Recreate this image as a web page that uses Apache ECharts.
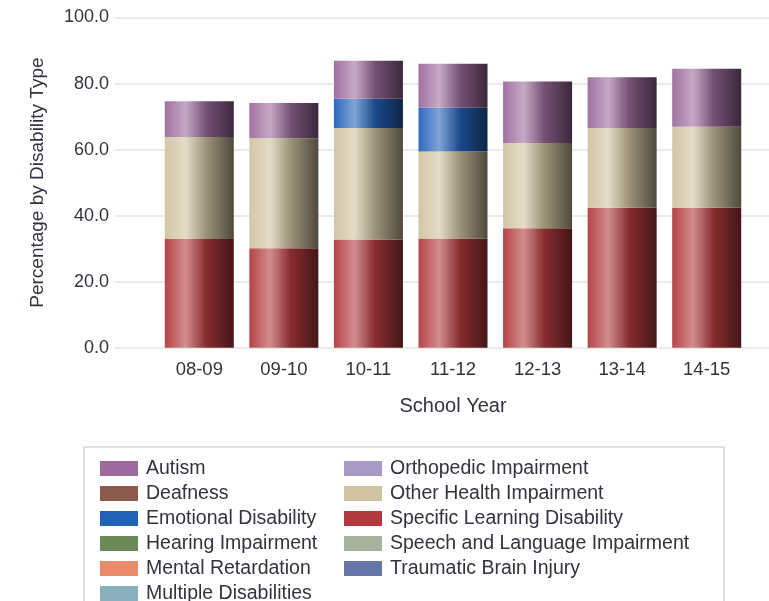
<!DOCTYPE html>
<html>
<head>
<meta charset="utf-8">
<script src="https://cdn.jsdelivr.net/npm/echarts@6/dist/echarts.min.js"></script>
<style>
html,body{margin:0;padding:0;background:#fff;}
#chart{width:769px;height:601px;}
</style>
</head>
<body>
<div id="chart"></div>
<script>
// ---- data ----
const schoolYears = ['08-09', '09-10', '10-11', '11-12', '12-13', '13-14', '14-15'];
const yTicks = [0, 20, 40, 60, 80, 100];

const autism = [10.8, 10.7, 11.5, 13.3, 18.6, 15.4, 17.6];
const deafness = [0, 0, 0, 0, 0, 0, 0];
const emotionalDisability = [0, 0, 8.9, 13.3, 0, 0, 0];
const hearingImpairment = [0, 0, 0, 0, 0, 0, 0];
const mentalRetardation = [0, 0, 0, 0, 0, 0, 0];
const multipleDisabilities = [0, 0, 0, 0, 0, 0, 0];
const orthopedicImpairment = [0, 0, 0, 0, 0, 0, 0];
const otherHealthImpairment = [30.9, 33.3, 33.7, 26.3, 25.8, 24.1, 24.5];
const specificLearningDisability = [32.9, 30.1, 32.8, 33.1, 36.2, 42.4, 42.4];
const speechLanguageImpairment = [0, 0, 0, 0, 0, 0, 0];
const traumaticBrainInjury = [0, 0, 0, 0, 0, 0, 0];

// ---- styling ----
const FONT = 'Liberation Sans, Arial, sans-serif';
const TXT = '#333340';
const colors = {
  'Autism': '#9C6A9C',
  'Deafness': '#8C5A4A',
  'Emotional Disability': '#2262B8',
  'Hearing Impairment': '#6B8A5A',
  'Mental Retardation': '#E88C6C',
  'Multiple Disabilities': '#8AAFBD',
  'Orthopedic Impairment': '#A89AC6',
  'Other Health Impairment': '#D0C3A0',
  'Specific Learning Disability': '#B23A3E',
  'Speech and Language Impairment': '#A7B39C',
  'Traumatic Brain Injury': '#6676A8'
};
function hexToRgb(h){h=h.replace('#','');return [parseInt(h.substr(0,2),16),parseInt(h.substr(2,2),16),parseInt(h.substr(4,2),16)];}
function mix(h, target, t){const c=hexToRgb(h);return 'rgb('+c.map((v,i)=>Math.round(v+(target[i]-v)*t)).join(',')+')';}
function grad(h){
  return new echarts.graphic.LinearGradient(0,0,1,0,[
    {offset:0, color: mix(h,[255,255,255],0.05)},
    {offset:0.3, color: mix(h,[255,255,255],0.42)},
    {offset:0.6, color: mix(h,[0,0,0],0.25)},
    {offset:1, color: mix(h,[0,0,0],0.62)}
  ]);
}

const seriesDefs = [
  ['Specific Learning Disability', specificLearningDisability],
  ['Other Health Impairment', otherHealthImpairment],
  ['Emotional Disability', emotionalDisability],
  ['Autism', autism],
  ['Deafness', deafness],
  ['Hearing Impairment', hearingImpairment],
  ['Mental Retardation', mentalRetardation],
  ['Multiple Disabilities', multipleDisabilities],
  ['Orthopedic Impairment', orthopedicImpairment],
  ['Speech and Language Impairment', speechLanguageImpairment],
  ['Traumatic Brain Injury', traumaticBrainInjury]
];

const legendCol1 = ['Autism','Deafness','Emotional Disability','Hearing Impairment','Mental Retardation','Multiple Disabilities'];
const legendCol2 = ['Orthopedic Impairment','Other Health Impairment','Specific Learning Disability','Speech and Language Impairment','Traumatic Brain Injury'];

function legendCfg(names, left){
  return {
    type:'plain', orient:'vertical', left:left, top:458.5, padding:0,
    width:360, height:200,
    itemWidth:38, itemHeight:15, itemGap:5,
    selectedMode:false,
    textStyle:{fontFamily:FONT, fontSize:19.5, color:TXT, lineHeight:20, padding:[0,0,0,3]},
    data: names.map(n=>({name:n, icon:'rect', itemStyle:{color:colors[n]}}))
  };
}

const chart = echarts.init(document.getElementById('chart'), null, {renderer:'canvas'});
chart.setOption({
  animation:false,
  backgroundColor:'#ffffff',
  grid:[
    {left:115, right:0, top:17.5, bottom:253.3},
    {left:157, right:20, top:17.5, bottom:253.3}
  ],
  xAxis:[
    {type:'category', gridIndex:0, data:schoolYears, show:false},
    {type:'category', gridIndex:1, data:schoolYears,
     axisLine:{show:false}, axisTick:{show:false},
     axisLabel:{fontFamily:FONT, fontSize:18.5, color:TXT, margin:13},
     name:'School Year', nameLocation:'middle', nameGap:49,
     nameTextStyle:{fontFamily:FONT, fontSize:20, color:TXT}}
  ],
  yAxis:[
    {type:'value', gridIndex:0, min:yTicks[0], max:yTicks[yTicks.length-1], interval:20,
     axisLine:{show:false}, axisTick:{show:false},
     axisLabel:{fontFamily:FONT, fontSize:18, color:TXT, margin:6, formatter:v=>v.toFixed(1)},
     splitLine:{lineStyle:{color:'#e3e3e3', width:1.5}},
     name:'Percentage by Disability Type', nameLocation:'middle', nameGap:68,
     nameTextStyle:{fontFamily:FONT, fontSize:19, color:TXT}},
    {type:'value', gridIndex:1, min:yTicks[0], max:yTicks[yTicks.length-1], interval:20, show:false, splitLine:{show:false}}
  ],
  legend:[legendCfg(legendCol1, 100), legendCfg(legendCol2, 344)],
  graphic:[
    {type:'rect', shape:{x:84, y:447, width:640, height:200}, style:{fill:'none', stroke:'#d6d6d6', lineWidth:1.5}, z:-1}
  ],
  series: seriesDefs.map(([name, data])=>({
    name:name, type:'bar', stack:'total', xAxisIndex:1, yAxisIndex:1,
    barWidth:69, data:data,
    itemStyle:{color:grad(colors[name])}
  }))
});
</script>
</body>
</html>
